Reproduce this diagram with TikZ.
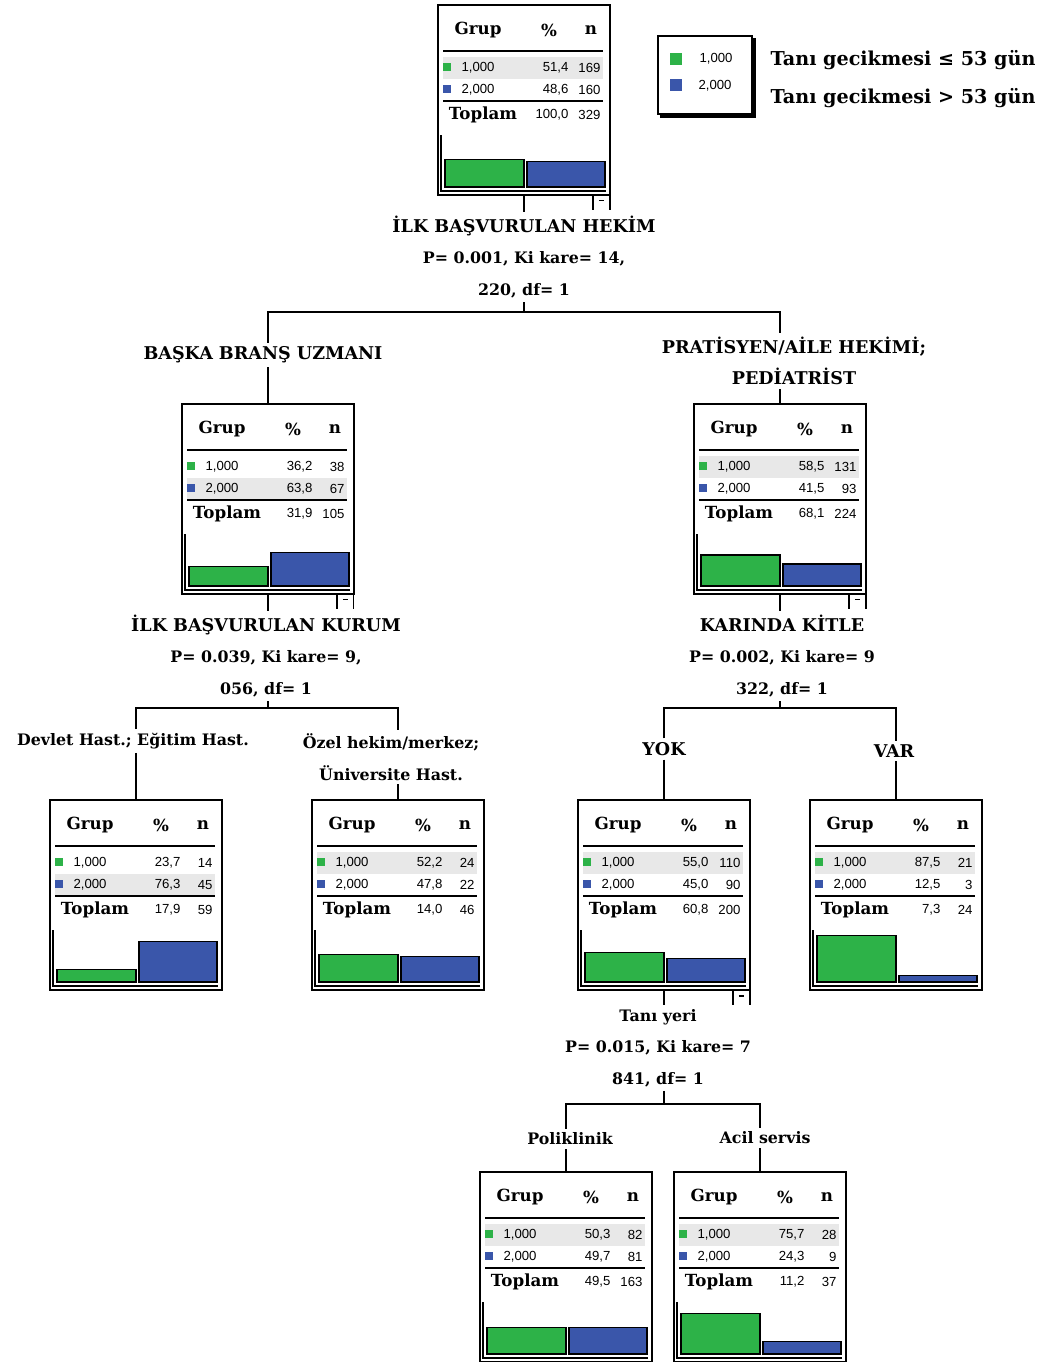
\documentclass[tikz,border=0pt]{standalone}
\usepackage{fontspec}
\setmainfont{DejaVu Serif}
\newfontfamily\numfont{Liberation Sans}
\usetikzlibrary{calc,positioning}

\definecolor{grpgreen}{RGB}{45,178,72}
\definecolor{grpblue}{RGB}{58,86,170}
\definecolor{rowgray}{RGB}{232,232,232}

\def\todot#1,#2\relax{#1.#2}
\newcommand{\capsline}[1]{{\fontsize{10}{18}\selectfont #1}}

% one node of the tree: name, x, y, % and n of 1,000, % and n of 2,000, % and n in total
\newcommand{\catbox}[9]{%
  \edef\catpa{\todot#4\relax}\edef\catpb{\todot#6\relax}%
  \pgfmathsetmacro\catha{0.53*\catpa}%
  \pgfmathsetmacro\cathb{0.53*\catpb}%
  \pgfmathtruncatemacro\catbig{\catpa>\catpb}%
  \begin{scope}[shift={(#2,#3)}]
    \ifnum\catbig=1 \fill[rowgray] (5,52) rectangle (165,74);
    \else \fill[rowgray] (5,74) rectangle (165,95); \fi
    \node[bnode, anchor=north west] (#1) at (0,0) {};
    \node[hdr] at (40,25) {Grup};
    \node[hdr] at (111,25) {\%};
    \node[hdr] at (153,25) {n};
    \draw[tabline] (5,46) -- (165,46);
    \fill[grpgreen] (5,58) rectangle (13,66);
    \node[num] at (40,63) {1,000};
    \node[num, anchor=east] at (131,63) {#4};
    \node[num, anchor=east] at (163,63) {#5};
    \fill[grpblue] (5,80) rectangle (13,88);
    \node[num] at (40,85) {2,000};
    \node[num, anchor=east] at (131,85) {#6};
    \node[num, anchor=east] at (163,85) {#7};
    \draw[tabline] (5,96) -- (165,96);
    \node[hdr] at (45,110) {Toplam};
    \node[num, anchor=east] at (131,110) {#8};
    \node[num, anchor=east] at (163,110) {#9};
    \draw[line width=0.8pt] (3,130) |- (168,186);
    \filldraw[fill=grpgreen, draw=black] (7,182) rectangle (86,182-\catha);
    \filldraw[fill=grpblue, draw=black] (89,182) rectangle (167,182-\cathb);
  \end{scope}}

\newcommand{\foldmark}[1]{%
  \draw ([xshift=-0.34cm]#1.south east) -- ++(0,-0.3cm);
  \draw (#1.south east) -- ++(0,-0.3cm);
  \draw ([xshift=-0.22cm,yshift=-0.12cm]#1.south east) -- ++(0.1cm,0);}

\begin{document}
\begin{tikzpicture}[x=0.02cm, y=-0.02cm, line width=0.6pt]
    \tikzstyle{bnode} = [draw, line width=0.8pt, rectangle, inner sep=0pt, outer sep=0pt, minimum width=3.44cm, minimum height=3.8cm]
    \tikzstyle{hdr} = [font=\fontsize{9.5}{11}\selectfont\bfseries, inner sep=0pt]
    \tikzstyle{num} = [font=\numfont\fontsize{7.5}{9}\selectfont, inner sep=0pt]
    \tikzstyle{tabline} = [line width=1pt]
    \tikzstyle{lnode} = [font=\fontsize{9}{18}\selectfont\bfseries, align=center, inner sep=2pt]
    \tikzstyle{leg} = [font=\fontsize{10.9}{13}\selectfont\bfseries, inner sep=0pt]

    \useasboundingbox (0,0) rectangle (1040,1362);

    % legend
    \draw[line width=0.8pt] (658,36) rectangle (752,114);
    \draw[line width=2pt] (660,116) -- (754,116) -- (754,38);
    \fill[grpgreen] (670,53) rectangle (682,65);
    \node[num] (lg1) at (716,59) {1,000};
    \fill[grpblue] (670,79) rectangle (682,91);
    \node[num] (lg2) at (715,86) {2,000};
    \node[leg, anchor=west] (lt1) at (770,60) {Tanı gecikmesi ≤ 53 gün};
    \node[leg, anchor=west] (lt2) at (770,98) {Tanı gecikmesi > 53 gün};

    \catbox{n0}{438}{5}{51,4}{169}{48,6}{160}{100,0}{329}
    \catbox{n1}{182}{404}{36,2}{38}{63,8}{67}{31,9}{105}
    \catbox{n2}{694}{404}{58,5}{131}{41,5}{93}{68,1}{224}
    \catbox{n3}{50}{800}{23,7}{14}{76,3}{45}{17,9}{59}
    \catbox{n4}{312}{800}{52,2}{24}{47,8}{22}{14,0}{46}
    \catbox{n5}{578}{800}{55,0}{110}{45,0}{90}{60,8}{200}
    \catbox{n6}{810}{800}{87,5}{21}{12,5}{3}{7,3}{24}
    \catbox{n7}{480}{1172}{50,3}{82}{49,7}{81}{49,5}{163}
    \catbox{n8}{674}{1172}{75,7}{28}{24,3}{9}{11,2}{37}

    \foldmark{n0}
    \foldmark{n1}
    \foldmark{n2}
    \foldmark{n5}

    \node[lnode] (s0) at (524,257) {\capsline{İLK BAŞVURULAN HEKİM}\\P= 0.001, Ki kare= 14,\\220, df= 1};
    \node[lnode] (s1) at (266,656) {\capsline{İLK BAŞVURULAN KURUM}\\P= 0.039, Ki kare= 9,\\056, df= 1};
    \node[lnode] (s2) at (782,656) {\capsline{KARINDA KİTLE}\\P= 0.002, Ki kare= 9\\322, df= 1};
    \node[lnode] (s5) at (658,1048) {Tanı yeri\\P= 0.015, Ki kare= 7\\841, df= 1};

    \node[lnode] (b1) at (263,355) {\capsline{BAŞKA BRANŞ UZMANI}};
    \node[lnode] (b2) at (794,361) {\capsline{PRATİSYEN/AİLE HEKİMİ;}\\\capsline{PEDİATRİST}};
    \node[lnode] (b3) at (133,741) {Devlet Hast.; Eğitim Hast.};
    \node[lnode] (b4) at (391,757) {Özel hekim/merkez;\\Üniversite Hast.};
    \node[lnode] (b5) at (664,749) {\capsline{YOK}};
    \node[lnode] (b6) at (894,751) {\capsline{VAR}};
    \node[lnode] (b7) at (570,1139) {Poliklinik};
    \node[lnode] (b8) at (765,1138) {Acil servis};

    \coordinate (j0) at (524,312);
    \coordinate (j1) at (268,708);
    \coordinate (j2) at (780,708);
    \coordinate (j5) at (664,1104);

    \draw (n0.south) -- (n0.south |- s0.north);
    \draw (j0 |- s0.south) -- (j0);
    \draw (n1.north |- b1.north) |- (j0) -| (n2.north |- b2.north);
    \draw (b1.south -| n1.north) -- (n1.north);
    \draw (b2.south -| n2.north) -- (n2.north);

    \draw (n1.south) -- (n1.south |- s1.north);
    \draw (j1 |- s1.south) -- (j1);
    \draw (n3.north |- b3.north) |- (j1) -| (n4.north |- b4.north);
    \draw (b3.south -| n3.north) -- (n3.north);
    \draw (b4.south -| n4.north) -- (n4.north);

    \draw (n2.south) -- (n2.south |- s2.north);
    \draw (j2 |- s2.south) -- (j2);
    \draw (n5.north |- b5.north) |- (j2) -| (n6.north |- b6.north);
    \draw (b5.south -| n5.north) -- (n5.north);
    \draw (b6.south -| n6.north) -- (n6.north);

    \draw (n5.south) -- (n5.south |- s5.north);
    \draw (j5 |- s5.south) -- (j5);
    \draw (n7.north |- b7.north) |- (j5) -| (n8.north |- b8.north);
    \draw (b7.south -| n7.north) -- (n7.north);
    \draw (b8.south -| n8.north) -- (n8.north);
\end{tikzpicture}
\end{document}
